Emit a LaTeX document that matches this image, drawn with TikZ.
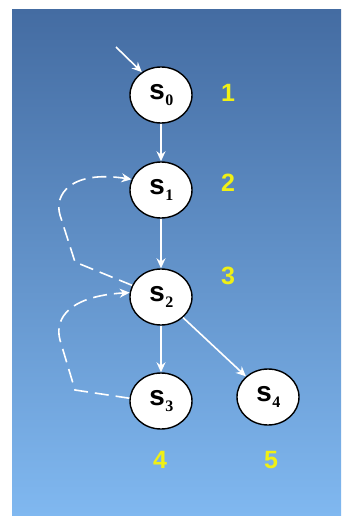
\documentclass[tikz,border=0pt]{standalone}
\usepackage{fontspec}
\setmainfont{Liberation Sans}
\newfontfamily\statefont{Liberation Mono}
\newfontfamily\subfont{Liberation Serif}
\usetikzlibrary{arrows.meta,shapes.geometric}
\definecolor{bgtop}{RGB}{68,108,162}
\definecolor{bgbot}{RGB}{128,184,240}
\definecolor{numyellow}{RGB}{240,240,20}
\newcommand{\stname}[1]{s\raisebox{-6pt}{\subfont\fontsize{16}{16}\selectfont #1}}
\tikzset{
  state/.style={ellipse, draw=black, line width=1.4pt, fill=white,
    minimum width=62pt, minimum height=56pt, inner sep=0pt,
    font=\statefont\bfseries\fontsize{28}{28}\selectfont},
  levelnum/.style={text=numyellow, font=\bfseries\fontsize{25}{25}\selectfont},
  trans/.style={draw=white, line width=1.6pt, -{Stealth[length=10pt,width=9pt]}},
  back/.style={trans, dash pattern=on 14pt off 7pt}
}
\begin{document}
\begin{tikzpicture}[x=1pt,y=-1pt]
  \useasboundingbox (0,0) rectangle (341,516);
  \fill[white] (0,0) rectangle (341,516);
  \shade[top color=bgtop, bottom color=bgbot] (12,10) rectangle (341,516);

  % states
  \node[state] (s0) at (161,95)  {\stname{0}};
  \node[state] (s1) at (161,190) {\stname{1}};
  \node[state] (s2) at (161,297) {\stname{2}};
  \node[state] (s3) at (161,401) {\stname{3}};
  \node[state] (s4) at (268,397) {\stname{4}};

  % level numbers
  \node[levelnum] (n1) at (228,93)  {1};
  \node[levelnum] (n2) at (228,183) {2};
  \node[levelnum] (n3) at (228,276) {3};
  \node[levelnum] (n4) at (160,460) {4};
  \node[levelnum] (n5) at (271,460) {5};

  % initial arrow
  \coordinate (init) at (116,47);
  \draw[trans] (init) -- (s0.130);

  % forward transitions
  \draw[trans] (s0) -- (s1);
  \draw[trans] (s1) -- (s2);
  \draw[trans] (s2) -- (s3);
  \draw[trans] (s2) -- (s4);

  % backward (dashed) transitions
  \draw[back] (s2.158) -- (75,262) -- (60,215)
              .. controls (54,195) and (70,170) .. (s1.160);
  \draw[back] (s3.175) -- (75,390) -- (60,340)
              .. controls (54,318) and (70,296) .. (s2.172);
\end{tikzpicture}
\end{document}
